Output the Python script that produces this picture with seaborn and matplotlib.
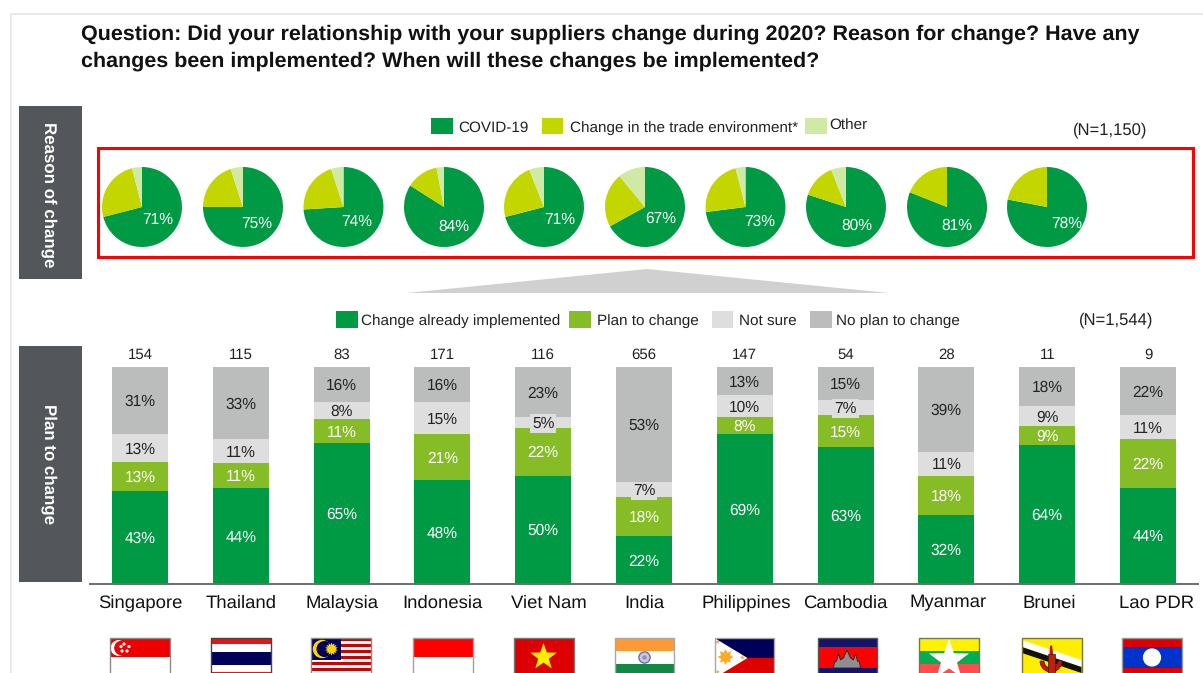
import matplotlib
matplotlib.use("Agg")
import matplotlib.pyplot as plt
import matplotlib.patches as mp
from matplotlib.transforms import ScaledTranslation
import numpy as np
import pandas as pd
import seaborn as sns

W, H = 1203, 673

title_lines = ["Question: Did your relationship with your suppliers change during 2020? Reason for change? Have any",
               "changes been implemented? When will these changes be implemented?"]

# pies
pie_covid = [71, 75, 74, 84, 71, 67, 73, 80, 81, 78]
pie_trade = [25, 20, 21, 13, 23, 22, 23, 14, 19, 22]
pie_other = [4, 5, 5, 3, 6, 11, 4, 6, 0, 0]

# bars
countries = ["Singapore", "Thailand", "Malaysia", "Indonesia", "Viet Nam", "India",
             "Philippines", "Cambodia", "Myanmar", "Brunei", "Lao PDR"]
respondents = [154, 115, 83, 171, 116, 656, 147, 54, 28, 11, 9]
implemented = [43, 44.3, 65, 48, 50, 22, 69, 63, 32, 64, 44.4]
plan = [13, 11.3, 11, 21, 22, 18, 8, 15, 18, 9, 22.2]
not_sure = [13, 11.3, 8, 15, 5, 7, 10, 7, 11, 9, 11.2]
no_plan = [31, 33.1, 16, 16, 23, 53, 13, 15, 39, 18, 22.2]

GREEN = "#009A44"
LIME = "#C4D600"
PALE = "#D0E9A5"
PLAN = "#86BC25"
NOTSURE = "#DEDEDE"
NOPLAN = "#BBBCBC"
PANEL = "#53565A"

sns.set_theme(style="white")
plt.rcParams["font.family"] = ["Liberation Sans", "DejaVu Sans"]
plt.rcParams["text.hinting"] = "no_hinting"

fig = plt.figure(figsize=(W / 100, H / 100), dpi=100, facecolor="white")


def px_axes(x0, y0, x1, y1):
    # axes from pixel box, y counted from the top
    return fig.add_axes([x0 / W, 1 - y1 / H, (x1 - x0) / W, (y1 - y0) / H])


# stacked bars
ax = px_axes(89.6, 367, 1198.4, 584)
df = pd.DataFrame({"country": countries, "implemented": implemented, "plan": plan,
                   "not_sure": not_sure, "no_plan": no_plan})
bottom = np.zeros(len(df))
for col, c, tc in [("implemented", GREEN, "white"), ("plan", PLAN, "white"),
                   ("not_sure", NOTSURE, "#222222"), ("no_plan", NOPLAN, "#222222")]:
    sns.barplot(data=df, x="country", y=col, bottom=bottom, color=c, width=0.555,
                saturation=1, linewidth=0, ax=ax, legend=False)
    cont = ax.containers[-1]
    labs = ["%d%%" % round(v) for v in df[col]]
    texts = ax.bar_label(cont, labels=labs, label_type="center", color=tc, fontsize=11.2)
    for t, v in zip(texts, df[col]):
        t.xyann = (0, -1)
        if col == "not_sure" and v < 8:
            t.set_bbox(dict(facecolor=NOTSURE, edgecolor="none", pad=1.5))
    bottom = bottom + df[col].to_numpy()
ax.bar_label(ax.containers[-1], labels=[str(n) for n in respondents], padding=3.5,
             fontsize=10.8, color="#222222")
ax.set_xlim(-0.5, 10.5)
ax.set_ylim(0, 100)
ax.set_xlabel("")
ax.set_ylabel("")
ax.set_yticks([])
ax.patch.set_alpha(0)
for s in ["top", "left", "right"]:
    ax.spines[s].set_visible(False)
ax.spines["bottom"].set_color("#6E6E6E")
ax.spines["bottom"].set_linewidth(1.4)
ax.tick_params(axis="x", length=0, pad=7.5, labelsize=13.3, labelcolor="#111111")
tick_nudge = [0, 0, 0, 0, 6, 0, 1, 0, 2, 2, 9]
for lab, dx in zip(ax.get_xticklabels(), tick_nudge):
    lab.set_transform(lab.get_transform() + ScaledTranslation(dx / 100, 0, fig.dpi_scale_trans))

# pies
pie_x = [142, 243, 343.5, 444, 544, 645, 745.5, 846, 947, 1047]
pie_lab = [(158, 220), (257, 224), (357, 222), (454, 227), (560, 220),
           (661, 219), (760, 222), (857, 226), (957, 226), (1067, 224)]
for i, cx in enumerate(pie_x):
    pa = px_axes(cx - 40, 167, cx + 40, 247)
    pa.pie([pie_covid[i], pie_trade[i], pie_other[i]], colors=[GREEN, LIME, PALE],
           startangle=90, counterclock=False, radius=1, wedgeprops={"linewidth": 0})
    pa.set_xlim(-1, 1)
    pa.set_ylim(-1, 1)

# everything else sits on a full figure axes in pixel coordinates
ov = fig.add_axes([0, 0, 1, 1], zorder=5)
ov.set_xlim(0, W)
ov.set_ylim(H, 0)
ov.axis("off")


def rect(x0, y0, x1, y1, c, **kw):
    ov.add_patch(mp.Rectangle((x0, y0), x1 - x0, y1 - y0, facecolor=c, edgecolor="none", **kw))


def star(cx, cy, r, c, n=5, inner=0.4):
    ang = np.pi * np.arange(2 * n) / n - np.pi / 2
    rad = np.where(np.arange(2 * n) % 2 == 0, r, r * inner)
    ov.add_patch(mp.Polygon(np.c_[cx + rad * np.cos(ang), cy + rad * np.sin(ang)],
                            facecolor=c, edgecolor="none"))


# page frame
ov.plot([10.5, 10.5, W], [H, 14, 14], color="#E9E9E9", lw=1.5)

for i, line in enumerate(title_lines):
    ov.text(81, 34 + 27 * i, line, fontsize=15.45, fontweight="bold", color="#111111", va="center")

rect(19, 106, 82, 279, PANEL)
rect(19, 346, 82, 582, PANEL)
ov.text(48.5, 194.5, "Reason of change", rotation=270, color="white", fontweight="bold",
        fontsize=12.2, ha="center", va="center")
ov.text(48.5, 464, "Plan to change", rotation=270, color="white", fontweight="bold",
        fontsize=12.2, ha="center", va="center")

ov.add_patch(mp.Rectangle((98, 148), 1095, 109, fill=False, edgecolor="#FF0000", lw=2.2))
ov.add_patch(mp.Polygon([(407, 293), (647, 269), (889, 293)], facecolor="#D0D0D0", edgecolor="none"))

for x, c, txt, tx, ty in [(431, GREEN, "COVID-19", 458, 128),
                          (541.5, LIME, "Change in the trade environment*", 570, 128),
                          (805, PALE, "Other", 829, 126)]:
    rect(x, 118, x + 21.5, 134, c)
    ov.text(tx, ty, txt, fontsize=11, color="#222222", va="center")
for x, c, txt, tx in [(336, GREEN, "Change already implemented", 361),
                      (569, PLAN, "Plan to change", 597),
                      (711.5, NOTSURE, "Not sure", 739),
                      (810, NOPLAN, "No plan to change", 836)]:
    rect(x, 311, x + 21.5, 328, c)
    ov.text(tx, 321, txt, fontsize=11, color="#222222", va="center")
ov.text(1073, 130, "(N=1,150)", fontsize=12, color="#222222", va="center")
ov.text(1079, 320.5, "(N=1,544)", fontsize=12, color="#222222", va="center")

for (x, y), v in zip(pie_lab, pie_covid):
    ov.text(x, y, "%d%%" % v, color="white", fontsize=11.2, ha="center", va="center")

# flags, cut off by the bottom of the image
FT, FB, FW = 638, 678, 59.5


def flag_edge(x, c="#8A8A8A"):
    ov.add_patch(mp.Rectangle((x, FT), FW, FB - FT, fill=False, edgecolor=c, lw=1.0))


def bands(x, stops, cols):
    for y0, y1, c in zip(stops[:-1], stops[1:], cols):
        rect(x, y0, x + FW, y1, c)


x = 110  # Singapore
bands(x, [638, 657, 678], ["#EE0000", "white"])
ov.add_patch(mp.Circle((x + 8.5, 648), 7.2, color="white"))
ov.add_patch(mp.Circle((x + 11.5, 648), 6.6, color="#EE0000"))
for dx, dy in [(14, -4), (19, -1.5), (17, 3), (12, 3), (11, -1.5)]:
    ov.add_patch(mp.Circle((x + dx, 648 + dy), 0.9, color="white"))
flag_edge(x)

x = 211  # Thailand
bands(x, [638, 643.5, 652, 665, 671.5, 678], ["#EE1111", "white", "#00005A", "white", "#EE1111"])
flag_edge(x, "#444444")

x = 311  # Malaysia
bands(x, [638 + 3 * k for k in range(14)], (["#CC0000", "white"] * 7)[:13])
rect(x, 638, x + 30, 660, "#00005A")
ov.add_patch(mp.Circle((x + 11, 649), 8.5, color="#FFD500"))
ov.add_patch(mp.Circle((x + 13.5, 649), 7.3, color="#00005A"))
star(x + 20.5, 649, 6.5, "#FFD500", n=14, inner=0.65)
flag_edge(x)

x = 413  # Indonesia
bands(x, [638, 657, 678], ["#FF0000", "white"])
flag_edge(x, "#A0A0A0")

x = 514  # Viet Nam
bands(x, [638, 678], ["#DD0000"])
star(x + 29.5, 657, 14, "#FFEE00", inner=0.4)
flag_edge(x, "#777777")

x = 614.5  # India
bands(x, [638, 651, 664, 678], ["#FF9933", "white", "#138844"])
ov.add_patch(mp.Circle((x + 30, 657.5), 5.6, facecolor="#C8C8E0", edgecolor="#7070A0", lw=1))
ov.add_patch(mp.Circle((x + 30, 657.5), 2.2, facecolor="#9090B8", edgecolor="none"))
flag_edge(x, "#A8A8A8")

x = 714.5  # Philippines
bands(x, [638, 658, 678], ["#00005A", "#DD0000"])
ov.add_patch(mp.Polygon([(x, 638), (x + 33, 658), (x, 678)], facecolor="white", edgecolor="none"))
star(x + 11, 657, 8, "#FFAA22", n=8, inner=0.6)
for sx, sy in [(x + 3, 642), (x + 28, 657.5), (x + 3, 672)]:
    star(sx, sy, 2.5, "#FFAA22")
flag_edge(x, "#A8A8A8")

x = 817.5  # Cambodia
bands(x, [638, 647, 668, 678], ["#14146A", "#FF0000", "#14146A"])
ov.add_patch(mp.Polygon([(x + 16, 668), (x + 17, 662), (x + 19, 661), (x + 21, 654), (x + 23, 660),
                         (x + 26, 658), (x + 29.5, 650), (x + 33, 658), (x + 36, 660), (x + 38, 654),
                         (x + 40, 661), (x + 42, 662), (x + 43, 668)],
                        facecolor="#8E8E8E", edgecolor="#222222", lw=0.6))
flag_edge(x, "#555555")

x = 919  # Myanmar
bands(x, [638, 651, 664, 678], ["#FFF200", "#00B050", "#FF4D4D"])
star(x + 30, 660, 21, "white", inner=0.4)
flag_edge(x, "#777755")

x = 1022  # Brunei
bands(x, [638, 678], ["#FFEE00"])
ov.add_patch(mp.Polygon([(x, 640), (x + FW, 660), (x + FW, 667), (x, 647)], facecolor="white", edgecolor="none"))
ov.add_patch(mp.Polygon([(x, 647), (x + FW, 667), (x + FW, 673), (x, 653)], facecolor="#111111", edgecolor="none"))
ov.add_patch(mp.Polygon([(x + 27, 660), (x + 28, 646), (x + 30, 645), (x + 32, 660)],
                        facecolor="#CC1111", edgecolor="none"))
ov.add_patch(mp.Wedge((x + 29, 661), 11, 0, 180, width=4, facecolor="#CC1111", edgecolor="#551111", lw=0.5))
ov.add_patch(mp.Rectangle((x + 26, 654), 7, 19, facecolor="#BB2211", edgecolor="#332200", lw=0.5))
flag_edge(x, "#777733")

x = 1122  # Lao PDR
bands(x, [638, 647, 668, 678], ["#DD0000", "#0033CC", "#DD0000"])
ov.add_patch(mp.Circle((x + 30, 657.5), 8.4, color="white"))
flag_edge(x, "#999999")

fig.savefig("out.png", dpi=100, facecolor="white")
